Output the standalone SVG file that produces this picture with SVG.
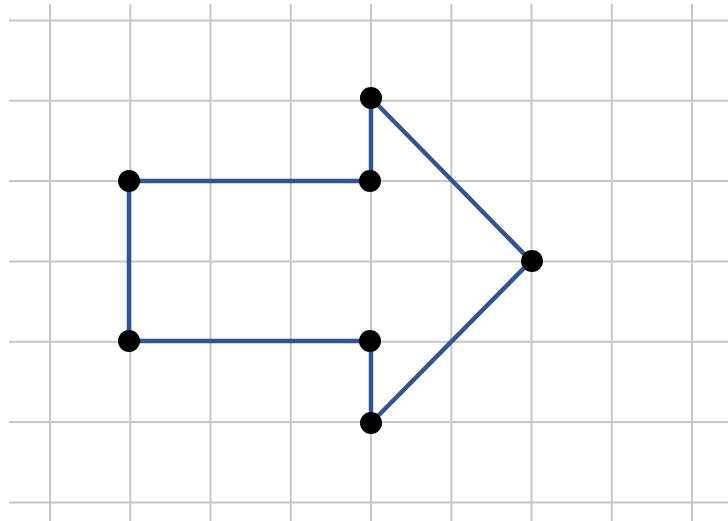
<svg xmlns="http://www.w3.org/2000/svg" width="728" height="521" viewBox="0 0 728 521">
<style>
.grid line{stroke:#c6c6c6;stroke-width:2}
.edge{stroke:#2f5597;stroke-width:4.5;fill:none;stroke-linejoin:round}
.pt{fill:#000}
</style>
<rect width="728" height="521" fill="#fff"/>
<g class="grid">
<line x1="50" y1="4" x2="50" y2="521"/>
<line x1="130.3" y1="4" x2="130.3" y2="521"/>
<line x1="210.5" y1="4" x2="210.5" y2="521"/>
<line x1="290.8" y1="4" x2="290.8" y2="521"/>
<line x1="371" y1="4" x2="371" y2="521"/>
<line x1="451.3" y1="4" x2="451.3" y2="521"/>
<line x1="531.5" y1="4" x2="531.5" y2="521"/>
<line x1="611.8" y1="4" x2="611.8" y2="521"/>
<line x1="692" y1="4" x2="692" y2="521"/>
<line x1="9" y1="20.5" x2="728" y2="20.5"/>
<line x1="9" y1="100.8" x2="728" y2="100.8"/>
<line x1="9" y1="181.1" x2="728" y2="181.1"/>
<line x1="9" y1="261.4" x2="728" y2="261.4"/>
<line x1="9" y1="341.7" x2="728" y2="341.7"/>
<line x1="9" y1="422" x2="728" y2="422"/>
<line x1="9" y1="502.5" x2="728" y2="502.5"/>
</g>
<g id="connectors">
<polygon class="edge" points="129,181 371,181 371,98 531,261 371,423 371,341 129,341"/>
</g>
<g id="p1"><circle class="pt" cx="129" cy="181" r="11"/></g>
<g id="p2"><circle class="pt" cx="370" cy="181" r="11"/></g>
<g id="p3"><circle class="pt" cx="371" cy="98" r="11"/></g>
<g id="p4"><circle class="pt" cx="532" cy="261" r="11"/></g>
<g id="p5"><circle class="pt" cx="371" cy="423" r="11"/></g>
<g id="p6"><circle class="pt" cx="370" cy="341" r="11"/></g>
<g id="p7"><circle class="pt" cx="129" cy="341" r="11"/></g>
</svg>
